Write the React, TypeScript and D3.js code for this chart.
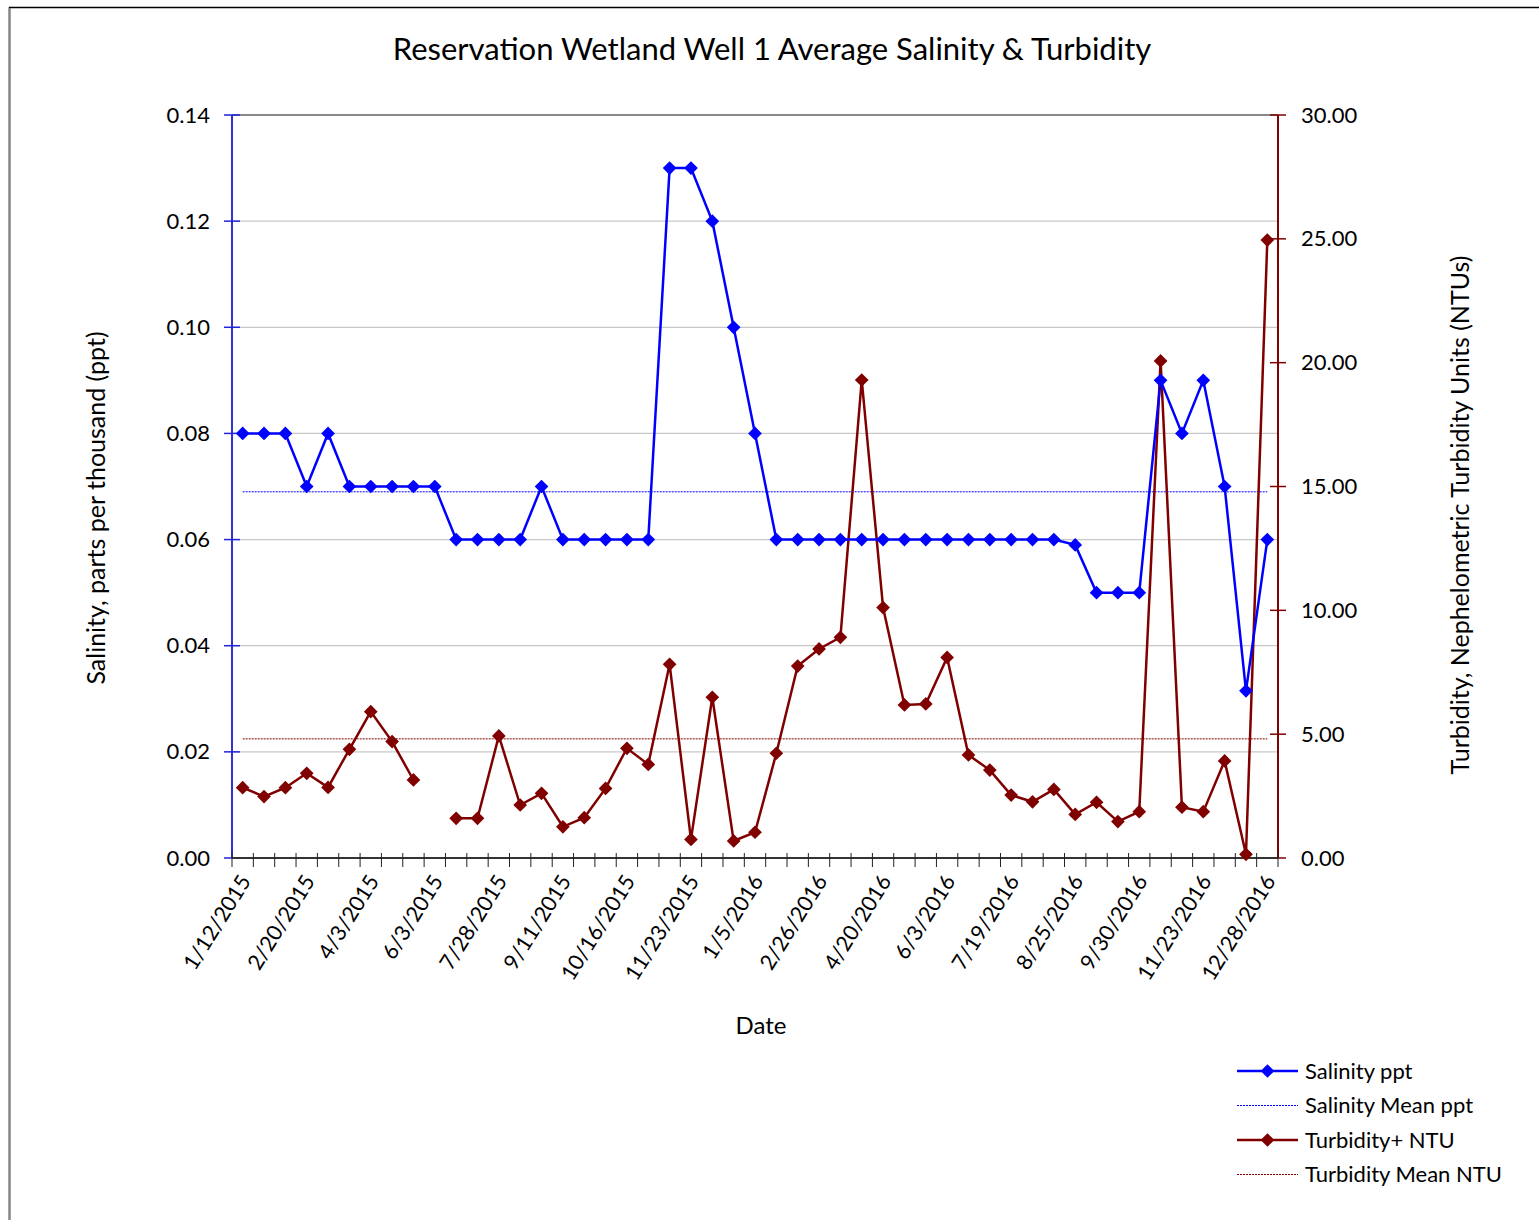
import { useEffect, useRef } from "react"
import * as d3 from "d3"

const dates = [
    "1/12/2015", "1/26/2015", "2/6/2015", "2/20/2015", "3/6/2015", "3/20/2015", "4/3/2015",
    "4/17/2015", "5/15/2015", "6/3/2015", "6/19/2015", "7/10/2015", "7/28/2015", "8/13/2015",
    "8/27/2015", "9/11/2015", "9/25/2015", "10/2/2015", "10/16/2015", "10/30/2015", "11/9/2015",
    "11/23/2015", "12/8/2015", "12/21/2015", "1/5/2016", "1/21/2016", "2/10/2016", "2/26/2016",
    "3/14/2016", "4/4/2016", "4/20/2016", "5/4/2016", "5/18/2016", "6/3/2016", "6/17/2016",
    "7/1/2016", "7/19/2016", "7/29/2016", "8/12/2016", "8/25/2016", "9/8/2016", "9/20/2016",
    "9/30/2016", "10/14/2016", "10/28/2016", "11/23/2016", "12/2/2016", "12/16/2016", "12/28/2016",
]

const salinity = [
    0.08, 0.08, 0.08, 0.07, 0.08, 0.07, 0.07, 0.07, 0.07, 0.07,
    0.06, 0.06, 0.06, 0.06, 0.07, 0.06, 0.06, 0.06, 0.06, 0.06,
    0.13, 0.13, 0.12, 0.10, 0.08, 0.06, 0.06, 0.06, 0.06, 0.06,
    0.06, 0.06, 0.06, 0.06, 0.06, 0.06, 0.06, 0.06, 0.06, 0.059,
    0.05, 0.05, 0.05, 0.09, 0.08, 0.09, 0.07, 0.0315, 0.06,
]

const turbidity: (number | null)[] = [
    2.84, 2.48, 2.84, 3.42, 2.85, 4.39, 5.91, 4.70, 3.15, null,
    1.60, 1.60, 4.93, 2.14, 2.61, 1.26, 1.63, 2.81, 4.43, 3.78,
    7.82, 0.75, 6.49, 0.69, 1.04, 4.23, 7.75, 8.44, 8.91, 19.30,
    10.11, 6.18, 6.22, 8.10, 4.16, 3.55, 2.54, 2.27, 2.77, 1.76,
    2.25, 1.47, 1.87, 20.07, 2.05, 1.87, 3.92, 0.15, 24.95,
]

const salinityMean = 0.069
const turbidityMean = 4.81

const leftTicks = [0, 0.02, 0.04, 0.06, 0.08, 0.1, 0.12, 0.14]
const rightTicks = [0, 5, 10, 15, 20, 25, 30]

const legendItems = [
    { label: "Salinity ppt", color: "#0000ff", marker: true },
    { label: "Salinity Mean ppt", color: "#0000ff", marker: false },
    { label: "Turbidity+ NTU", color: "#800000", marker: true },
    { label: "Turbidity Mean NTU", color: "#800000", marker: false },
]

const FONT = "Lato, 'Open Sans', sans-serif"
const BLUE = "#0000ff"
const RED = "#800000"

export default function App() {
    const ref = useRef<SVGSVGElement | null>(null)

    useEffect(() => {
        const svg = d3.select(ref.current)
        svg.selectAll("*").remove()

        const left = 232, right = 1278, top = 115, bottom = 858

        const x = d3.scaleBand<string>().domain(dates).range([left, right])
        const cx = (d: string) => (x(d) ?? 0) + x.bandwidth() / 2
        const yL = d3.scaleLinear().domain([0, 0.14]).range([bottom, top])
        const yR = d3.scaleLinear().domain([0, 30]).range([bottom, top])

        // outer chart border (right/bottom fall off the page)
        svg.append("rect")
            .attr("x", 9.5).attr("y", 7.5)
            .attr("width", 1600).attr("height", 1300)
            .attr("fill", "#fff")
            .attr("stroke", "#000").attr("stroke-width", 1.5)
        svg.append("line")
            .attr("x1", 9.5).attr("x2", 9.5).attr("y1", 8).attr("y2", 1220)
            .attr("stroke", "#888").attr("stroke-width", 2)

        svg.append("text")
            .attr("x", 772).attr("y", 60)
            .attr("text-anchor", "middle")
            .attr("font-size", 31)
            .text("Reservation Wetland Well 1 Average Salinity & Turbidity")

        // gridlines
        svg.append("g")
            .selectAll("line")
            .data(leftTicks.slice(1, -1))
            .join("line")
            .attr("x1", left).attr("x2", right)
            .attr("y1", d => yL(d)).attr("y2", d => yL(d))
            .attr("stroke", "#c8c8c8").attr("stroke-width", 1.3)

        // top border of plot
        svg.append("line")
            .attr("x1", left).attr("x2", right)
            .attr("y1", top).attr("y2", top)
            .attr("stroke", "#888").attr("stroke-width", 2)

        // left axis
        svg.append("line")
            .attr("x1", left).attr("x2", left).attr("y1", top).attr("y2", bottom)
            .attr("stroke", "#3333cc").attr("stroke-width", 2)
        const lt = svg.append("g")
        lt.selectAll("line")
            .data(leftTicks)
            .join("line")
            .attr("x1", left - 8).attr("x2", left + 8)
            .attr("y1", d => yL(d)).attr("y2", d => yL(d))
            .attr("stroke", "#2222dd").attr("stroke-width", 1.5)
        lt.selectAll("text")
            .data(leftTicks)
            .join("text")
            .attr("x", 210).attr("y", d => yL(d) + 7.5)
            .attr("text-anchor", "end")
            .attr("font-size", 22)
            .text(d => d3.format(".2f")(d))

        // right axis
        svg.append("line")
            .attr("x1", right).attr("x2", right).attr("y1", top).attr("y2", bottom)
            .attr("stroke", RED).attr("stroke-width", 2)
        const rt = svg.append("g")
        rt.selectAll("line")
            .data(rightTicks)
            .join("line")
            .attr("x1", right - 8).attr("x2", right + 8)
            .attr("y1", d => yR(d)).attr("y2", d => yR(d))
            .attr("stroke", RED).attr("stroke-width", 1.5)
        rt.selectAll("text")
            .data(rightTicks)
            .join("text")
            .attr("x", 1301).attr("y", d => yR(d) + 7.5)
            .attr("font-size", 22)
            .text(d => d3.format(".2f")(d))

        // x axis
        svg.append("line")
            .attr("x1", left).attr("x2", right).attr("y1", bottom).attr("y2", bottom)
            .attr("stroke", "#333").attr("stroke-width", 2)
        const xb = [...dates.map(d => x(d) ?? 0), right]
        svg.append("g")
            .selectAll("line")
            .data(xb)
            .join("line")
            .attr("x1", d => d).attr("x2", d => d)
            .attr("y1", bottom - 5).attr("y2", bottom + 9)
            .attr("stroke", "#222").attr("stroke-width", 1)
        svg.append("g")
            .selectAll("text")
            .data(dates.filter((_, i) => i % 3 === 0))
            .join("text")
            .attr("text-anchor", "end")
            .attr("font-size", 21.5)
            .attr("transform", d => `translate(${cx(d) + 9},${bottom + 23}) rotate(-58)`)
            .text(d => d)

        // axis titles
        svg.append("text")
            .attr("transform", "translate(105,508) rotate(-90)")
            .attr("text-anchor", "middle")
            .attr("font-size", 25)
            .text("Salinity, parts per thousand (ppt)")
        svg.append("text")
            .attr("transform", "translate(1469,515) rotate(-90)")
            .attr("text-anchor", "middle")
            .attr("font-size", 25)
            .text("Turbidity, Nephelometric Turbidity Units (NTUs)")
        svg.append("text")
            .attr("x", 761).attr("y", 1034)
            .attr("text-anchor", "middle")
            .attr("font-size", 24)
            .text("Date")

        // mean lines
        const x0 = cx(dates[0]), x1 = cx(dates[dates.length - 1])
        svg.append("line")
            .attr("x1", x0).attr("x2", x1)
            .attr("y1", yL(salinityMean)).attr("y2", yL(salinityMean))
            .attr("stroke", BLUE).attr("stroke-width", 1).attr("stroke-dasharray", "2,1")
        svg.append("line")
            .attr("x1", x0).attr("x2", x1)
            .attr("y1", yR(turbidityMean)).attr("y2", yR(turbidityMean))
            .attr("stroke", RED).attr("stroke-width", 1).attr("stroke-dasharray", "2,1")

        const diamond = d3.symbol().type(d3.symbolDiamond2).size(120)

        // turbidity series
        const tData = dates.map((d, i) => ({ d, v: turbidity[i] }))
        const tLine = d3.line<{ d: string, v: number | null }>()
            .defined(p => p.v != null)
            .x(p => cx(p.d))
            .y(p => yR(p.v as number))
        svg.append("path")
            .datum(tData)
            .attr("d", tLine)
            .attr("fill", "none")
            .attr("stroke", RED).attr("stroke-width", 2.5)
        svg.append("g")
            .selectAll("path")
            .data(tData.filter(p => p.v != null))
            .join("path")
            .attr("d", diamond)
            .attr("transform", p => `translate(${cx(p.d)},${yR(p.v as number)})`)
            .attr("fill", RED)

        // salinity series
        const sData = dates.map((d, i) => ({ d, v: salinity[i] }))
        const sLine = d3.line<{ d: string, v: number }>()
            .x(p => cx(p.d))
            .y(p => yL(p.v))
        svg.append("path")
            .datum(sData)
            .attr("d", sLine)
            .attr("fill", "none")
            .attr("stroke", BLUE).attr("stroke-width", 2.5)
        svg.append("g")
            .selectAll("path")
            .data(sData)
            .join("path")
            .attr("d", diamond)
            .attr("transform", p => `translate(${cx(p.d)},${yL(p.v)})`)
            .attr("fill", BLUE)

        // legend
        const lg = svg.append("g")
        legendItems.forEach((item, i) => {
            const yy = 1071 + i * 34.5
            lg.append("line")
                .attr("x1", 1237).attr("x2", 1298).attr("y1", yy).attr("y2", yy)
                .attr("stroke", item.color)
                .attr("stroke-width", item.marker ? 2.5 : 1)
                .attr("stroke-dasharray", item.marker ? null : "2,1")
            if (item.marker) {
                lg.append("path")
                    .attr("d", diamond)
                    .attr("transform", `translate(1267.5,${yy})`)
                    .attr("fill", item.color)
            }
            lg.append("text")
                .attr("x", 1305).attr("y", yy + 7.5)
                .attr("font-size", 22)
                .text(item.label)
        })
    }, [])

    return (
        <div style={{ position: "absolute", left: 0, top: 0 }}>
            <svg
                ref={ref}
                width={1539}
                height={1220}
                style={{ display: "block", fontFamily: FONT, background: "#fff" }}
            />
        </div>
    )
}
